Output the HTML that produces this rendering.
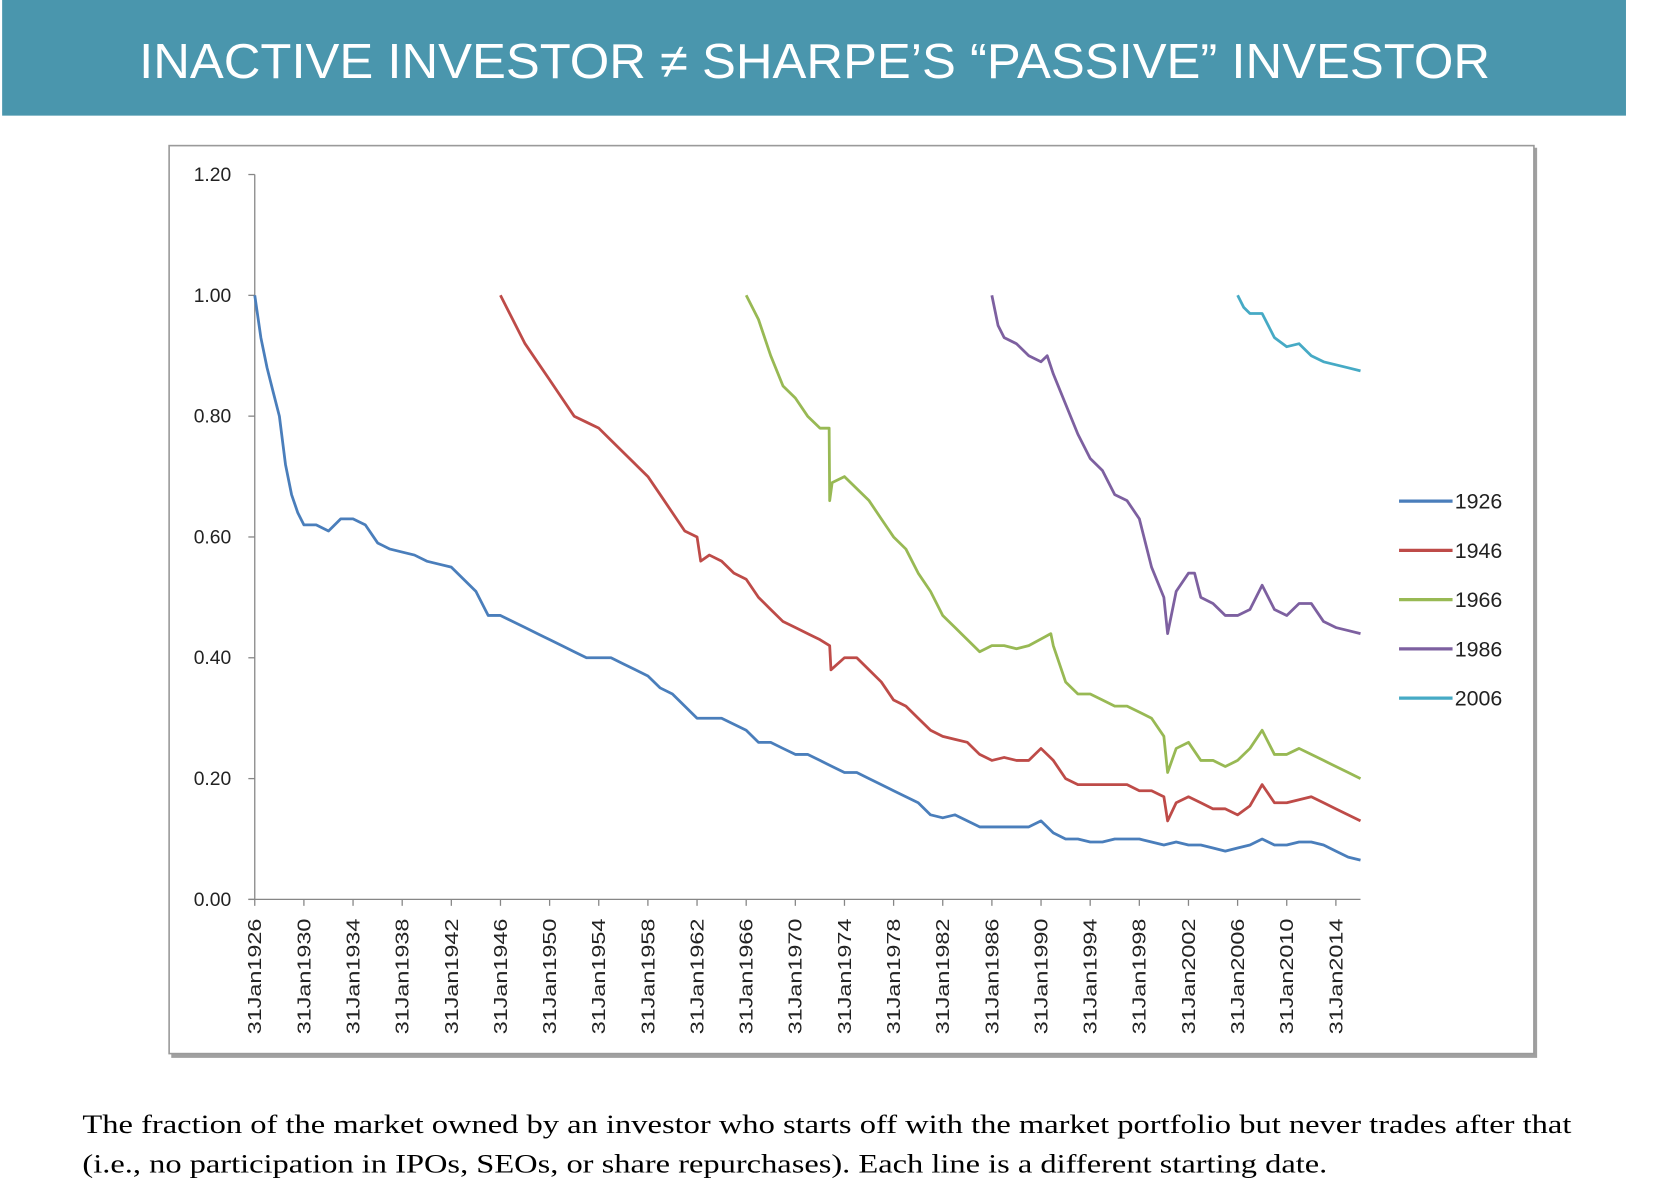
<!DOCTYPE html>
<html><head><meta charset="utf-8"><style>
html,body{margin:0;padding:0;background:#fff;}
svg{display:block;}
</style></head><body>
<svg id="chart" width="1672" height="1196" viewBox="0 0 1562 1117" preserveAspectRatio="none" xmlns="http://www.w3.org/2000/svg">
<rect x="2" y="0" width="1517" height="108" fill="#4a96ad"/>
<text x="761" y="73" text-anchor="middle" fill="#fff" font-family="Liberation Sans, sans-serif" font-size="46" textLength="1262" lengthAdjust="spacingAndGlyphs">INACTIVE INVESTOR ≠ SHARPE’S “PASSIVE” INVESTOR</text>
<rect x="160" y="138" width="1276" height="850" fill="#a0a0a0"/>
<rect x="158" y="136" width="1275" height="848" fill="#fff" stroke="#9a9a9a" stroke-width="1.5"/>
<g id="axes"></g>
<g id="series"></g>
<g id="legend"></g>
<text x="77" y="1058" font-family="Liberation Serif, serif" font-size="25" fill="#000" textLength="1391" lengthAdjust="spacingAndGlyphs">The fraction of the market owned by an investor who starts off with the market portfolio but never trades after that</text>
<text x="77" y="1095" font-family="Liberation Serif, serif" font-size="25" fill="#000" textLength="1163" lengthAdjust="spacingAndGlyphs">(i.e., no participation in IPOs, SEOs, or share repurchases). Each line is a different starting date.</text>
</svg>
<script>
const yTicks=[0,0.2,0.4,0.6,0.8,1.0,1.2];
const yTickLabels=["0.00","0.20","0.40","0.60","0.80","1.00","1.20"];
const xTickYears=[1926,1930,1934,1938,1942,1946,1950,1954,1958,1962,1966,1970,1974,1978,1982,1986,1990,1994,1998,2002,2006,2010,2014];
const seriesNames=["1926","1946","1966","1986","2006"];
const s1926Years=[1926,1926.5,1927,1927.5,1928,1928.5,1929,1929.5,1930,1931,1932,1933,1934,1935,1936,1937,1938,1939,1940,1941,1942,1943,1944,1945,1946,1947,1948,1949,1950,1951,1952,1953,1954,1955,1956,1957,1958,1959,1960,1961,1962,1963,1964,1965,1966,1967,1968,1969,1970,1971,1972,1973,1974,1975,1976,1977,1978,1979,1980,1981,1982,1983,1984,1985,1986,1987,1988,1989,1990,1991,1992,1993,1994,1995,1996,1997,1998,1999,2000,2001,2002,2003,2004,2005,2006,2007,2008,2009,2010,2011,2012,2013,2014,2015,2016];
const s1926Values=[1.00,0.93,0.88,0.84,0.80,0.72,0.67,0.64,0.62,0.62,0.61,0.63,0.63,0.62,0.59,0.58,0.575,0.57,0.56,0.555,0.55,0.53,0.51,0.47,0.47,0.46,0.45,0.44,0.43,0.42,0.41,0.40,0.40,0.40,0.39,0.38,0.37,0.35,0.34,0.32,0.30,0.30,0.30,0.29,0.28,0.26,0.26,0.25,0.24,0.24,0.23,0.22,0.21,0.21,0.20,0.19,0.18,0.17,0.16,0.14,0.135,0.14,0.13,0.12,0.12,0.12,0.12,0.12,0.13,0.11,0.10,0.10,0.095,0.095,0.10,0.10,0.10,0.095,0.09,0.095,0.09,0.09,0.085,0.08,0.085,0.09,0.10,0.09,0.09,0.095,0.095,0.09,0.08,0.07,0.065];
const s1946Years=[1946,1947,1948,1949,1950,1951,1952,1953,1954,1955,1956,1957,1958,1959,1960,1961,1962,1962.3,1963,1964,1965,1966,1967,1968,1969,1970,1971,1972,1972.8,1972.9,1974,1975,1976,1977,1978,1979,1980,1981,1982,1983,1984,1985,1986,1987,1988,1989,1990,1991,1992,1993,1994,1995,1996,1997,1998,1999,2000,2000.3,2001,2002,2003,2004,2005,2006,2007,2008,2009,2010,2011,2012,2013,2014,2015,2016];
const s1946Values=[1.00,0.96,0.92,0.89,0.86,0.83,0.80,0.79,0.78,0.76,0.74,0.72,0.70,0.67,0.64,0.61,0.60,0.56,0.57,0.56,0.54,0.53,0.50,0.48,0.46,0.45,0.44,0.43,0.42,0.38,0.40,0.40,0.38,0.36,0.33,0.32,0.30,0.28,0.27,0.265,0.26,0.24,0.23,0.235,0.23,0.23,0.25,0.23,0.20,0.19,0.19,0.19,0.19,0.19,0.18,0.18,0.17,0.13,0.16,0.17,0.16,0.15,0.15,0.14,0.155,0.19,0.16,0.16,0.165,0.17,0.16,0.15,0.14,0.13];
const s1966Years=[1966,1967,1968,1969,1970,1971,1972,1972.75,1972.8,1973,1974,1975,1976,1977,1978,1979,1980,1981,1982,1983,1984,1985,1986,1987,1988,1989,1990.8,1991,1992,1993,1994,1995,1996,1997,1998,1999,2000,2000.3,2001,2002,2003,2004,2005,2006,2007,2008,2009,2010,2011,2012,2013,2014,2015,2016];
const s1966Values=[1.00,0.96,0.90,0.85,0.83,0.80,0.78,0.78,0.66,0.69,0.70,0.68,0.66,0.63,0.60,0.58,0.54,0.51,0.47,0.45,0.43,0.41,0.42,0.42,0.415,0.42,0.44,0.42,0.36,0.34,0.34,0.33,0.32,0.32,0.31,0.30,0.27,0.21,0.25,0.26,0.23,0.23,0.22,0.23,0.25,0.28,0.24,0.24,0.25,0.24,0.23,0.22,0.21,0.20];
const s1986Years=[1986,1986.5,1987,1988,1989,1990,1990.5,1991,1992,1993,1994,1995,1996,1997,1998,1999,2000,2000.3,2001,2002,2002.5,2003,2004,2005,2006,2007,2008,2009,2010,2011,2012,2013,2014,2015,2016];
const s1986Values=[1.00,0.95,0.93,0.92,0.90,0.89,0.90,0.87,0.82,0.77,0.73,0.71,0.67,0.66,0.63,0.55,0.50,0.44,0.51,0.54,0.54,0.50,0.49,0.47,0.47,0.48,0.52,0.48,0.47,0.49,0.49,0.46,0.45,0.445,0.44];
const s2006Years=[2006,2006.5,2007,2008,2009,2010,2011,2012,2013,2014,2015,2016];
const s2006Values=[1.00,0.98,0.97,0.97,0.93,0.915,0.92,0.90,0.89,0.885,0.88,0.875];
const seriesColors=["#4a7ebb","#be4b48","#98b954","#7d60a0","#46aac5"];

const NS="http://www.w3.org/2000/svg";
const X0=238,PX_PER_YEAR=(1248-238)/88,Y0=840,PX_PER_UNIT=(840-163)/1.2;
function xScale(yr){return X0+(yr-1926)*PX_PER_YEAR;}
function yScale(v){return Y0-v*PX_PER_UNIT;}
function mk(tag,attrs,parent){const e=document.createElementNS(NS,tag);for(const k in attrs)e.setAttribute(k,attrs[k]);parent.appendChild(e);return e;}
const axes=document.getElementById('axes');
let yl=mk('line',{x1:X0,y1:yScale(1.2),x2:X0,y2:Y0,stroke:'#868686','stroke-width':1.2},axes);


let xl=mk('line',{x1:X0-6,y1:Y0,x2:1271,y2:Y0,stroke:'#868686','stroke-width':1.2},axes);


yTicks.forEach((v,i)=>{
  const t=mk('line',{x1:X0-6,y1:yScale(v),x2:X0,y2:yScale(v),stroke:'#868686','stroke-width':1.2},axes);
  
  
  const l=mk('text',{x:216,y:yScale(v)+6,'text-anchor':'end','font-family':'Liberation Sans, sans-serif','font-size':18,fill:'#222'},axes);
  
  
  l.textContent=yTickLabels[i];
});
xTickYears.forEach(yr=>{
  const x=xScale(yr);
  const t=mk('line',{x1:x,y1:Y0,x2:x,y2:Y0+6,stroke:'#868686','stroke-width':1.2},axes);
  
  
  const l=mk('text',{x:0,y:0,'text-anchor':'end','font-family':'Liberation Sans, sans-serif','font-size':17,fill:'#222',transform:`translate(${x+6},${Y0+18}) rotate(-90)`,textLength:108,lengthAdjust:'spacingAndGlyphs'},axes);
  
  
  l.textContent='31Jan'+yr;
});
const allYears=[s1926Years,s1946Years,s1966Years,s1986Years,s2006Years];
const allValues=[s1926Values,s1946Values,s1966Values,s1986Values,s2006Values];
const sg=document.getElementById('series');
allYears.forEach((yrs,i)=>{
  const d=yrs.map((yr,j)=>(j?'L':'M')+xScale(yr).toFixed(1)+' '+yScale(allValues[i][j]).toFixed(1)).join(' ');
  const p=mk('path',{d:d,fill:'none',stroke:seriesColors[i],'stroke-width':2.6,'stroke-linejoin':'round'},sg);
  
  
});
const lg=document.getElementById('legend');
seriesNames.forEach((n,i)=>{
  const y=468+i*46;
  const g=mk('g',{},lg);
  
  
  mk('line',{x1:1307,y1:y,x2:1357,y2:y,stroke:seriesColors[i],'stroke-width':3},g);
  const t=mk('text',{x:1359,y:y+7,'font-family':'Liberation Sans, sans-serif','font-size':20,fill:'#222'},g);
  t.textContent=n;
});
</script>
</body></html>
